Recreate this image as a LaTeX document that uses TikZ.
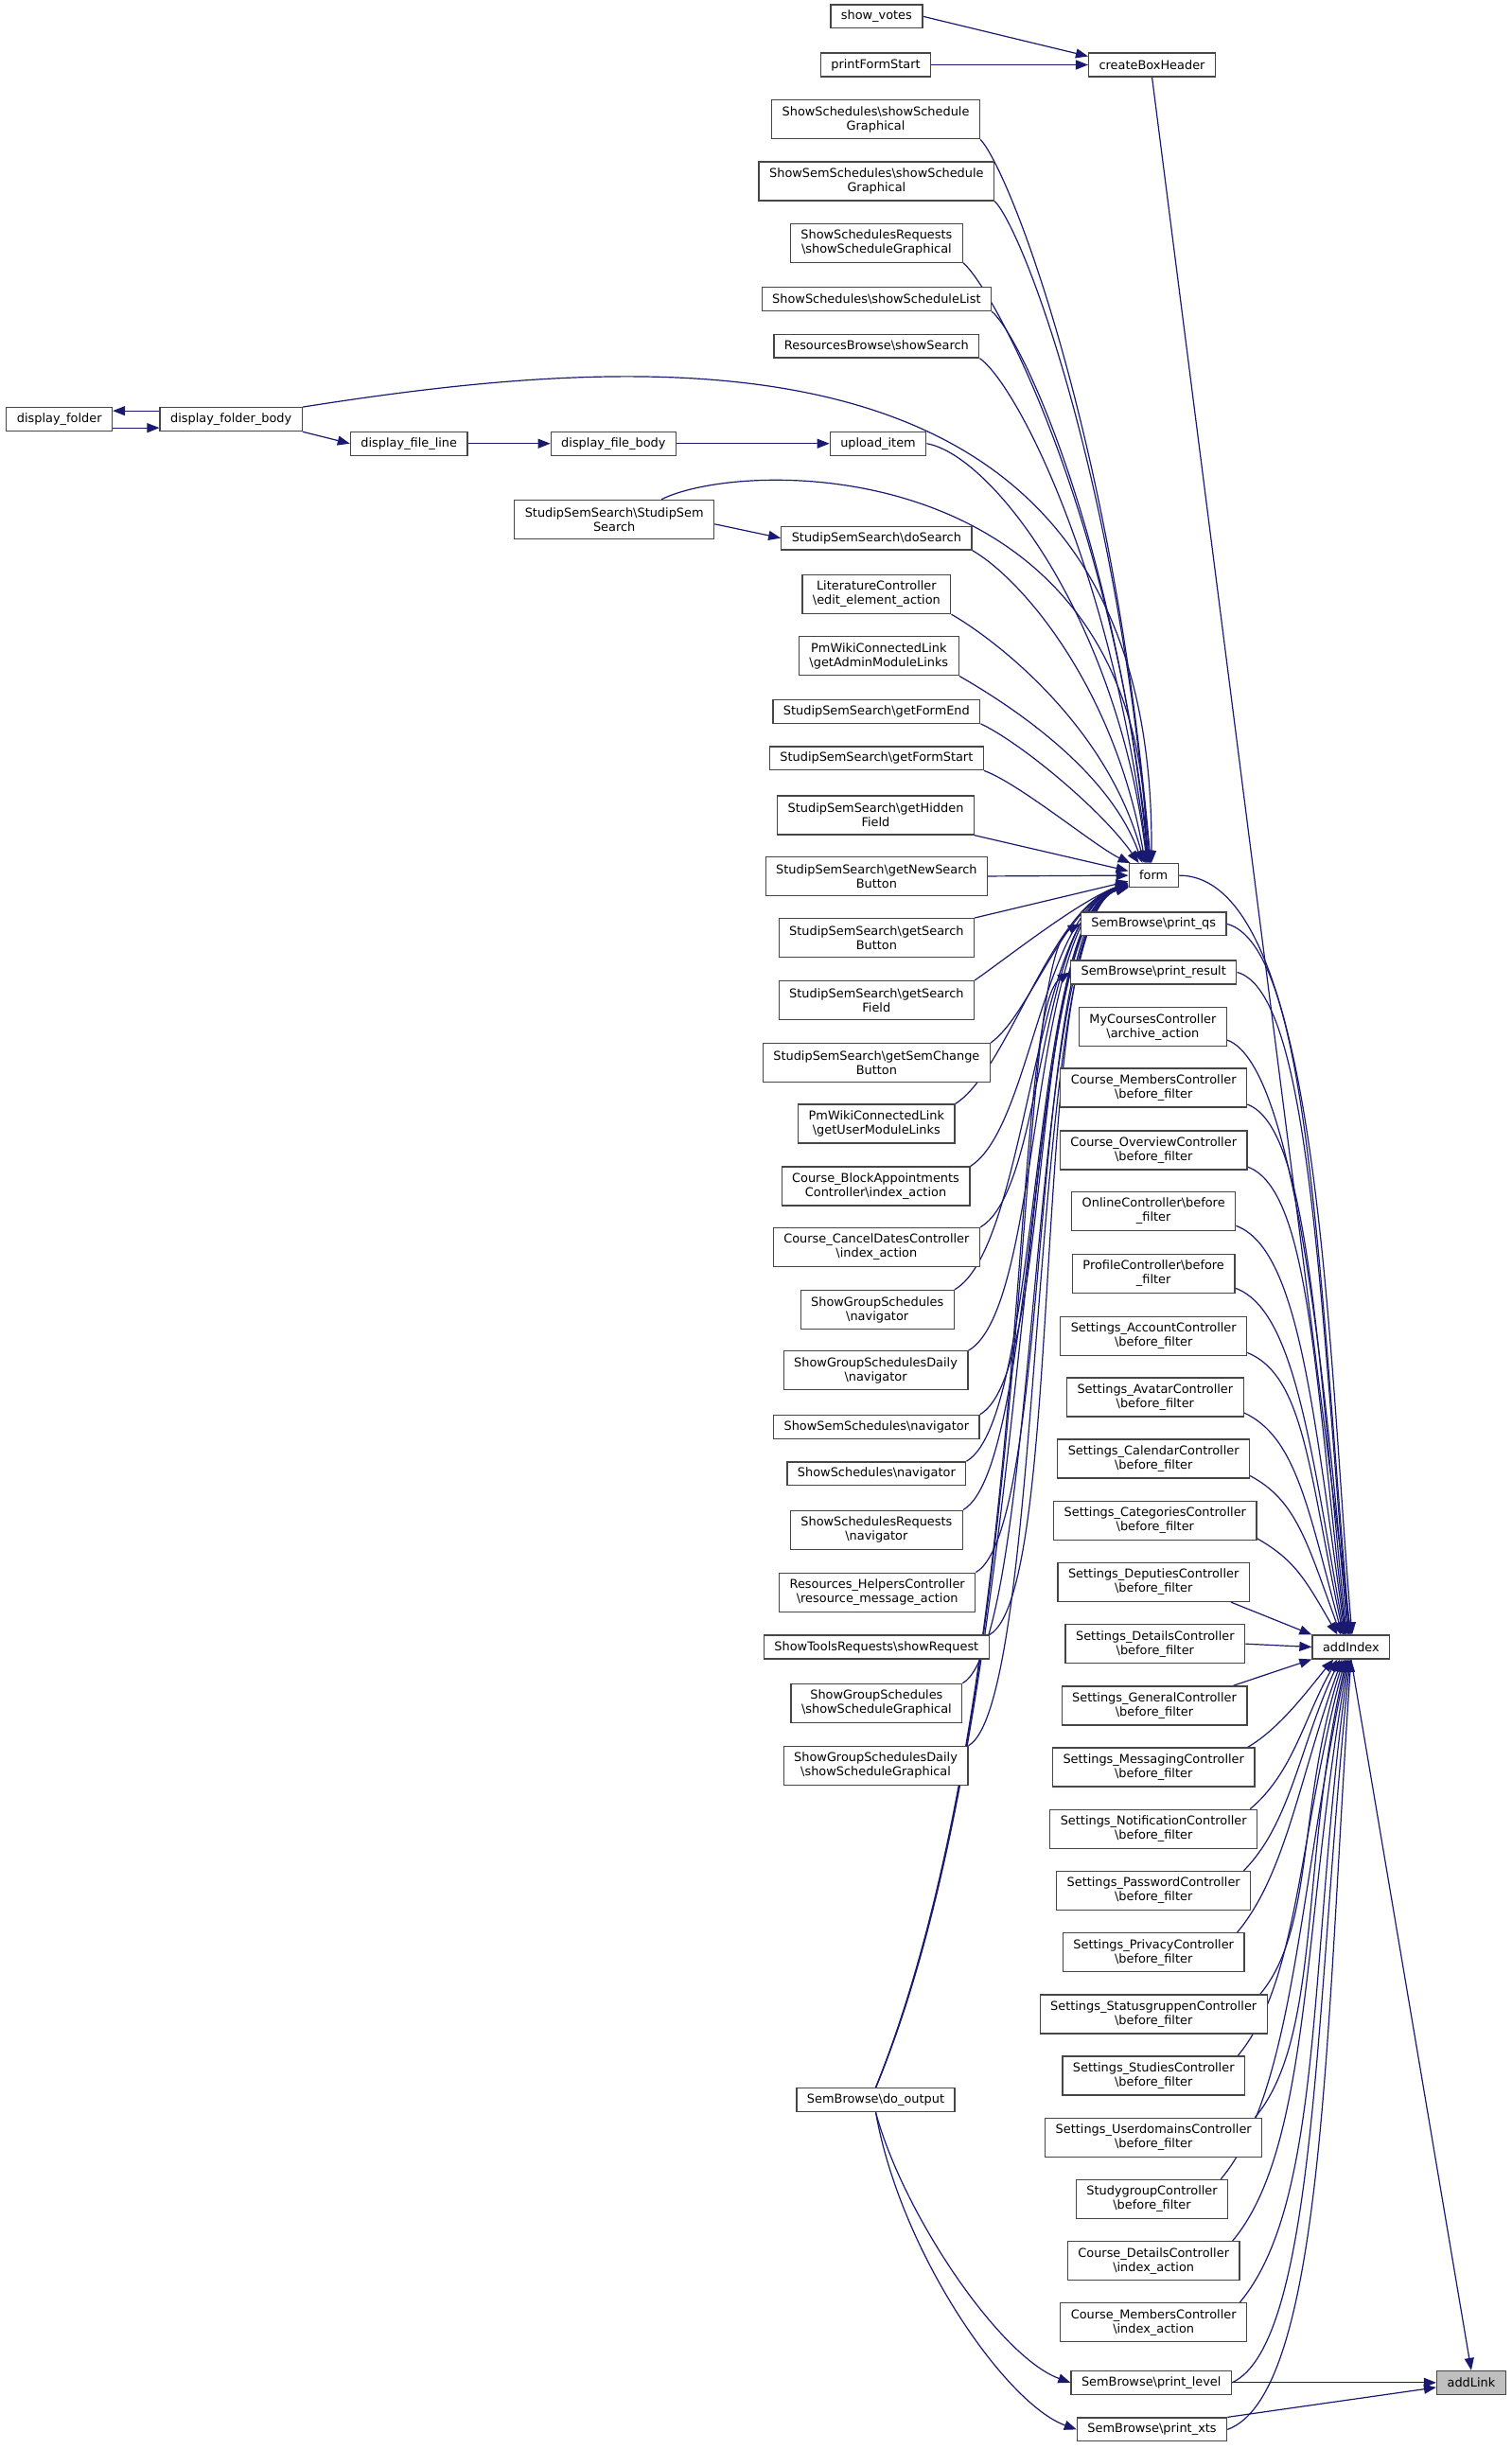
\documentclass[tikz,border=0pt]{standalone}
\usepackage{fontspec}
\setmainfont{DejaVu Sans}
\usetikzlibrary{arrows.meta}
\pgfdeclarelayer{bg}
\pgfsetlayers{bg,main}
\definecolor{edgec}{RGB}{25,25,112}
\definecolor{boxc}{RGB}{70,70,70}
\definecolor{hilite}{RGB}{191,191,191}
\newcommand{\bsl}{\textbackslash}
\begin{document}
\begin{tikzpicture}[x=1.64979pt,y=1.65051pt,
  box/.style={draw=boxc, line width=1.3pt, fill=white, inner xsep=11pt, inner ysep=2pt,
    minimum height=24.8pt, font=\fontsize{12.9}{15}\selectfont, align=center},
  two/.style={box, minimum height=41pt},
  cedge/.style={draw=edgec, line width=1.2pt, -{Triangle[length=13pt,width=10pt]}},
]
\useasboundingbox (0,0) rectangle (968,-1568);

% ---------- left chain
\node[box] (df)   at (38,-268.5)  {display\_folder};
\node[box] (dfb)  at (148,-268.5) {display\_folder\_body};
\node[box] (dfl)  at (262,-284)   {display\_file\_line};
\node[box] (dfbo) at (393,-284)   {display\_file\_body};
\node[two] (sss)  at (393.5,-332.5) {StudipSemSearch\bsl StudipSem\\Search};

% ---------- middle column
\node[box] (sv)  at (561.5,-10.5) {show\_votes};
\node[box] (pfs) at (561,-41.5)   {printFormStart};
\node[two] (n1)  at (561,-76.5)   {ShowSchedules\bsl showSchedule\\Graphical};
\node[two] (n2)  at (561.5,-116)  {ShowSemSchedules\bsl showSchedule\\Graphical};
\node[two] (n3)  at (561.5,-155.5){ShowSchedulesRequests\\\bsl showScheduleGraphical};
\node[box] (n4)  at (561.5,-191.5){ShowSchedules\bsl showScheduleList};
\node[box] (n5)  at (561.5,-221.5){ResourcesBrowse\bsl showSearch};
\node[box] (ui)  at (562.5,-284)  {upload\_item};
\node[box] (ds)  at (561.5,-344.5){StudipSemSearch\bsl doSearch};
\node[two] (n6)  at (561.5,-380.5){LiteratureController\\\bsl edit\_element\_action};
\node[two] (n7)  at (563,-420)    {PmWikiConnectedLink\\\bsl getAdminModuleLinks};
\node[box] (n8)  at (561.5,-455.5){StudipSemSearch\bsl getFormEnd};
\node[box] (n9)  at (561.5,-485.5){StudipSemSearch\bsl getFormStart};
\node[two] (n10) at (561,-522)    {StudipSemSearch\bsl getHidden\\Field};
\node[two] (n11) at (561.5,-561)  {StudipSemSearch\bsl getNewSearch\\Button};
\node[two] (n12) at (561.5,-600.5){StudipSemSearch\bsl getSearch\\Button};
\node[two] (n13) at (561.5,-640.5){StudipSemSearch\bsl getSearch\\Field};
\node[two] (n14) at (561.5,-680.5){StudipSemSearch\bsl getSemChange\\Button};
\node[two] (n15) at (561.5,-719.5){PmWikiConnectedLink\\\bsl getUserModuleLinks};
\node[two] (n16) at (561,-759.5)  {Course\_BlockAppointments\\Controller\bsl index\_action};
\node[two] (n17) at (561.5,-798.5){Course\_CancelDatesController\\\bsl index\_action};
\node[two] (n18) at (562,-838.5)  {ShowGroupSchedules\\\bsl navigator};
\node[two] (n19) at (561,-877.5)  {ShowGroupSchedulesDaily\\\bsl navigator};
\node[box] (n20) at (561.5,-913.5){ShowSemSchedules\bsl navigator};
\node[box] (n21) at (561.5,-943.5){ShowSchedules\bsl navigator};
\node[two] (n22) at (561.5,-979.5){ShowSchedulesRequests\\\bsl navigator};
\node[two] (n23) at (562,-1019.5) {Resources\_HelpersController\\\bsl resource\_message\_action};
\node[box] (n24) at (561.5,-1054.5){ShowToolsRequests\bsl showRequest};
\node[two] (n25) at (561.5,-1090.5){ShowGroupSchedules\\\bsl showScheduleGraphical};
\node[two] (n26) at (561,-1130.5) {ShowGroupSchedulesDaily\\\bsl showScheduleGraphical};
\node[box] (dout) at (561,-1344.5){SemBrowse\bsl do\_output};

% ---------- third column
\node[box] (cbh)  at (738,-41.5)  {createBoxHeader};
\node[box] (form) at (739,-560.5) {form};
\node[box] (pqs)  at (739,-591.5) {SemBrowse\bsl print\_qs};
\node[box] (pres) at (739,-622.5) {SemBrowse\bsl print\_result};
\node[two] (m1)  at (738.5,-657.5){MyCoursesController\\\bsl archive\_action};
\node[two] (m2)  at (739,-696.5)  {Course\_MembersController\\\bsl before\_filter};
\node[two] (m3)  at (739,-736.5)  {Course\_OverviewController\\\bsl before\_filter};
\node[two] (m4)  at (739,-775.5)  {OnlineController\bsl before\\\_filter};
\node[two] (m5)  at (739,-815.5)  {ProfileController\bsl before\\\_filter};
\node[two] (m6)  at (739,-855.5)  {Settings\_AccountController\\\bsl before\_filter};
\node[two] (m7)  at (740,-894.5)  {Settings\_AvatarController\\\bsl before\_filter};
\node[two] (m8)  at (739,-934)    {Settings\_CalendarController\\\bsl before\_filter};
\node[two] (m9)  at (740,-973.5)  {Settings\_CategoriesController\\\bsl before\_filter};
\node[two] (m10) at (739,-1013)   {Settings\_DeputiesController\\\bsl before\_filter};
\node[two] (m11) at (740,-1052.5) {Settings\_DetailsController\\\bsl before\_filter};
\node[two] (m12) at (739.5,-1092) {Settings\_GeneralController\\\bsl before\_filter};
\node[two] (m13) at (739,-1131.5) {Settings\_MessagingController\\\bsl before\_filter};
\node[two] (m14) at (739,-1171)   {Settings\_NotificationController\\\bsl before\_filter};
\node[two] (m15) at (739,-1210.5) {Settings\_PasswordController\\\bsl before\_filter};
\node[two] (m16) at (739,-1250)   {Settings\_PrivacyController\\\bsl before\_filter};
\node[two] (m17) at (739,-1289.5) {Settings\_StatusgruppenController\\\bsl before\_filter};
\node[two] (m18) at (739,-1329)   {Settings\_StudiesController\\\bsl before\_filter};
\node[two] (m19) at (739,-1368.5) {Settings\_UserdomainsController\\\bsl before\_filter};
\node[two] (m20) at (738,-1408)   {StudygroupController\\\bsl before\_filter};
\node[two] (m21) at (739,-1447.5) {Course\_DetailsController\\\bsl index\_action};
\node[two] (m22) at (739,-1487)   {Course\_MembersController\\\bsl index\_action};
\node[box] (plev) at (737.5,-1525.5){SemBrowse\bsl print\_level};
\node[box] (pxts) at (738,-1555.5)  {SemBrowse\bsl print\_xts};

% ---------- right
\node[box] (ai) at (865.5,-1054.5) {addIndex};
\node[box, fill=hilite] (al) at (942.5,-1525.5) {addLink};

\begin{pgfonlayer}{bg}
% top
\draw[cedge] (sv.east) -- ([yshift=9pt]cbh.west);
\draw[cedge] (pfs.east) -- (cbh.west);
\draw[cedge] (cbh.south) -- (ai.north);
% left chain
\draw[cedge] ([yshift=9pt]dfb.west) -- ([yshift=9pt]df.east);
\draw[cedge] ([yshift=-9pt]df.east) -- ([yshift=-9pt]dfb.west);
\draw[cedge] (dfb.south east) -- (dfl.west);
\draw[cedge] (dfl.east) -- (dfbo.west);
\draw[cedge] (dfbo.east) -- (ui.west);
\draw[cedge] (dfb.north east) .. controls (420,-225) and (740,-200) .. (form.100);
\draw[cedge] ([yshift=-5pt]sss.east) -- (ds.west);
\draw[cedge] ([xshift=50pt]sss.north) .. controls (480,-292) and (735,-290) .. (form.121);
% into form from above
\draw[cedge] (n1.south east) to[out=-45,in=95,out distance=40pt,in distance=460pt] (form.103);
\draw[cedge] (n2.south east) to[out=-45,in=95,out distance=40pt,in distance=420pt] (form.106);
\draw[cedge] (n3.south east) to[out=-40,in=96,out distance=40pt,in distance=380pt] (form.109);
\draw[cedge] (n4.south east) to[out=-40,in=96,out distance=40pt,in distance=350pt] (form.112);
\draw[cedge] (n5.south east) to[out=-35,in=97,out distance=45pt,in distance=320pt] (form.115);
\draw[cedge] (ui.east) to[out=-10,in=97,out distance=70pt,in distance=260pt] (form.118);
\draw[cedge] (ds.south east) to[out=-30,in=100,out distance=60pt,in distance=190pt] (form.124);
\draw[cedge] (n6.south east) to[out=-30,in=105,out distance=55pt,in distance=150pt] (form.127);
\draw[cedge] (n7.south east) to[out=-30,in=110,out distance=50pt,in distance=110pt] (form.132);
\draw[cedge] (n8.south east) to[out=-25,in=125,out distance=45pt,in distance=70pt] (form.140);
\draw[cedge] (n9.south east) to[out=-20,in=155,out distance=40pt,in distance=40pt] (form.152);
\draw[cedge] (n10.south east) -- (form.170);
\draw[cedge] (n11.east) -- (form.west);
\draw[cedge] (n12.north east) -- (form.193);
\draw[cedge] (n13.north east) to[out=35,in=200,out distance=45pt,in distance=55pt] (form.196);
% into form from below
\draw[cedge] (n14.north east) to[out=35,in=197,out distance=50pt,in distance=70pt] (form.198);
\draw[cedge] (n15.north east) to[out=32,in=196,out distance=65pt,in distance=85pt] (form.199);
\draw[cedge] (n16.north east) to[out=32,in=196,out distance=75pt,in distance=95pt] (form.200);
\draw[cedge] (n17.north east) to[out=30,in=195,out distance=80pt,in distance=100pt] (form.201);
\draw[cedge] (n18.north east) to[out=30,in=195,out distance=90pt,in distance=105pt] (form.202);
\draw[cedge] (n19.north east) to[out=30,in=195,out distance=92pt,in distance=110pt] (form.202);
\draw[cedge] (n20.north east) to[out=30,in=195,out distance=92pt,in distance=110pt] (form.203);
\draw[cedge] (n21.north east) to[out=30,in=195,out distance=95pt,in distance=110pt] (form.203);
\draw[cedge] (n22.north east) to[out=30,in=195,out distance=95pt,in distance=110pt] (form.204);
\draw[cedge] (n23.north east) to[out=30,in=195,out distance=95pt,in distance=110pt] (form.204);
\draw[cedge] (n24.north east) to[out=30,in=195,out distance=95pt,in distance=110pt] (form.205);
\draw[cedge] (n25.north east) to[out=30,in=195,out distance=95pt,in distance=110pt] (form.205);
\draw[cedge] (n26.north east) to[out=30,in=195,out distance=95pt,in distance=110pt] (form.205);
% do_output
\draw[cedge] (dout.north) .. controls (668,-1080) and (648,-585) .. (form.206);
\draw[cedge] (dout.north) .. controls (666,-1080) and (648,-615) .. (pqs.west);
\draw[cedge] (dout.north) .. controls (664,-1080) and (646,-648) .. (pres.west);
\draw[cedge] (dout.south) to[out=-75,in=160,out distance=110pt,in distance=80pt] (plev.west);
\draw[cedge] (dout.south) to[out=-80,in=160,out distance=150pt,in distance=80pt] (pxts.west);
% into addIndex from above
\draw[cedge] (form.east) to[out=0,in=95,out distance=150pt,in distance=300pt] (ai.85);
\draw[cedge] (pqs.east) to[out=-15,in=95,out distance=90pt,in distance=380pt] (ai.95);
\draw[cedge] (pres.east) to[out=-15,in=95,out distance=80pt,in distance=350pt] (ai.100);
\draw[cedge] (m1.-10) to[out=-20,in=95,out distance=70pt,in distance=330pt] (ai.105);
\draw[cedge] (m2.-10) to[out=-20,in=96,out distance=70pt,in distance=300pt] (ai.110);
\draw[cedge] (m3.-10) to[out=-20,in=97,out distance=70pt,in distance=270pt] (ai.113);
\draw[cedge] (m4.-10) to[out=-20,in=98,out distance=70pt,in distance=240pt] (ai.116);
\draw[cedge] (m5.-10) to[out=-20,in=100,out distance=65pt,in distance=210pt] (ai.119);
\draw[cedge] (m6.-10) to[out=-22,in=102,out distance=65pt,in distance=175pt] (ai.122);
\draw[cedge] (m7.-10) to[out=-25,in=105,out distance=60pt,in distance=140pt] (ai.126);
\draw[cedge] (m8.-10) to[out=-28,in=110,out distance=55pt,in distance=105pt] (ai.130);
\draw[cedge] (m9.-10) to[out=-30,in=120,out distance=45pt,in distance=70pt] (ai.138);
\draw[cedge] ([xshift=-20pt]m10.south east) -- (ai.north west);
\draw[cedge] (m11.east) -- (ai.west);
\draw[cedge] ([xshift=-15pt]m12.north east) -- (ai.south west);
% into addIndex from below
\draw[cedge] ([xshift=-8pt]m13.north east) to[out=30,in=230,out distance=40pt,in distance=40pt] (ai.215);
\draw[cedge] ([xshift=-8pt]m14.north east) to[out=40,in=240,out distance=60pt,in distance=70pt] (ai.222);
\draw[cedge] ([xshift=-8pt]m15.north east) to[out=45,in=245,out distance=70pt,in distance=100pt] (ai.228);
\draw[cedge] ([xshift=-8pt]m16.north east) to[out=50,in=250,out distance=80pt,in distance=130pt] (ai.234);
\draw[cedge] ([xshift=-8pt]m17.north east) to[out=50,in=252,out distance=90pt,in distance=160pt] (ai.240);
\draw[cedge] ([xshift=-8pt]m18.north east) to[out=50,in=255,out distance=100pt,in distance=190pt] (ai.245);
\draw[cedge] ([xshift=-8pt]m19.north east) to[out=50,in=257,out distance=110pt,in distance=220pt] (ai.250);
\draw[cedge] ([xshift=-8pt]m20.north east) to[out=50,in=258,out distance=120pt,in distance=250pt] (ai.254);
\draw[cedge] ([xshift=-8pt]m21.north east) to[out=50,in=260,out distance=130pt,in distance=280pt] (ai.258);
\draw[cedge] ([xshift=-8pt]m22.north east) to[out=50,in=262,out distance=140pt,in distance=310pt] (ai.262);
\draw[cedge] (plev.east) to[out=25,in=264,out distance=100pt,in distance=350pt] (ai.266);
\draw[cedge] (pxts.east) to[out=20,in=266,out distance=110pt,in distance=380pt] (ai.270);
% into addLink
\draw[cedge] (ai.south) -- (al.north);
\draw[cedge] (plev.east) -- (al.west);
\draw[cedge] (pxts.north east) -- ([yshift=-5pt]al.west);
\end{pgfonlayer}
\end{tikzpicture}
\end{document}
